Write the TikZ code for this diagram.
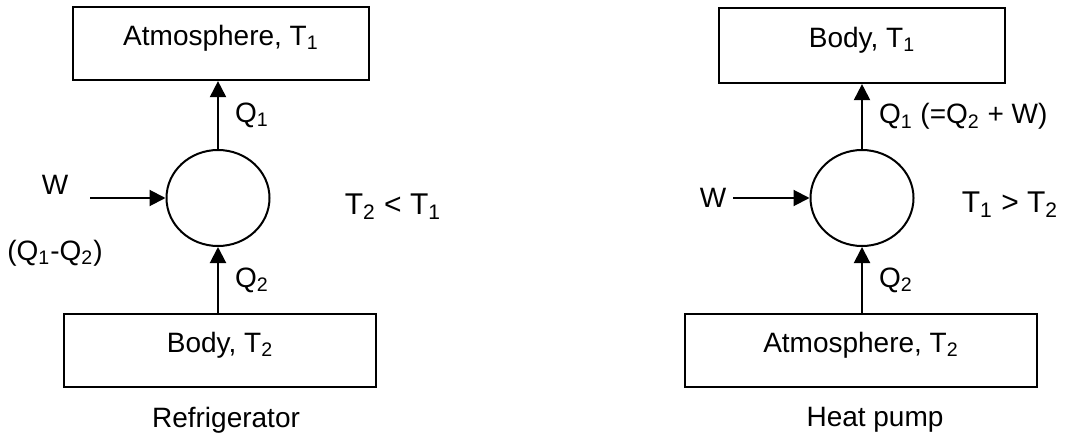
\documentclass[tikz,border=0pt]{standalone}
\usepackage{fontspec}
\setmainfont{Liberation Sans}
\usetikzlibrary{arrows.meta,shapes.geometric}

\begin{document}
\begin{tikzpicture}[x=0.5pt, y=-0.5pt,
  every node/.style={font=\fontsize{14}{16}\selectfont},
  reservoir/.style={draw, line width=1.1pt, inner sep=0pt, text height=10pt, text depth=8pt},
  engine/.style={ellipse, draw, line width=1pt, inner sep=0pt, minimum width=51.5pt, minimum height=48pt},
  flow/.style={line width=1pt, -{Triangle[length=8pt,width=8pt]}},
  qlabel/.style={right, inner sep=0pt, xshift=8pt}]
  \useasboundingbox (0,0) rectangle (1079,438);

  % Refrigerator
  \node[reservoir, minimum width=148pt, minimum height=36.5pt] (atmL) at (221,43.5) {Atmosphere, T\textsubscript{1}};
  \node[engine] (engL) at (218,198) {};
  \node[reservoir, minimum width=156pt, minimum height=36.5pt] (bodyL) at (220,350.5) {Body, T\textsubscript{2}};
  \node (wL) at (55,185) {W};
  \coordinate (wLtail) at (90,198);
  \node (diffL) at (55,253) {(Q\textsubscript{1}-Q\textsubscript{2})};
  \node[font=\fontsize{15}{18}\selectfont] (cmpL) at (393,207) {T\textsubscript{2} < T\textsubscript{1}};
  \node (refr) at (226,420) {Refrigerator};

  \draw[flow] (wLtail) -- (engL.west);
  \draw[flow] (engL.north) -- node[qlabel] (q1L) {Q\textsubscript{1}} (engL.north |- atmL.south);
  \draw[flow] (engL.south |- bodyL.north) -- node[qlabel] (q2L) {Q\textsubscript{2}} (engL.south);

  % Heat pump
  \node[reservoir, minimum width=143pt, minimum height=37.5pt] (bodyR) at (862,45.5) {Body, T\textsubscript{1}};
  \node[engine] (engR) at (862,198) {};
  \node[reservoir, minimum width=176pt, minimum height=36.5pt] (atmR) at (861,350.5) {Atmosphere, T\textsubscript{2}};
  \node (wR) at (713,198) {W};
  \node[font=\fontsize{15}{18}\selectfont] (cmpR) at (1010,205) {T\textsubscript{1} > T\textsubscript{2}};
  \node (hp) at (875,420) {Heat pump};

  \draw[flow] (wR) -- (engR);
  \draw[flow] (engR.north) -- node[qlabel] (q1R) {Q\textsubscript{1} (=Q\textsubscript{2} + W)} (engR.north |- bodyR.south);
  \draw[flow] (engR.south |- atmR.north) -- node[qlabel] (q2R) {Q\textsubscript{2}} (engR.south);
\end{tikzpicture}
\end{document}
